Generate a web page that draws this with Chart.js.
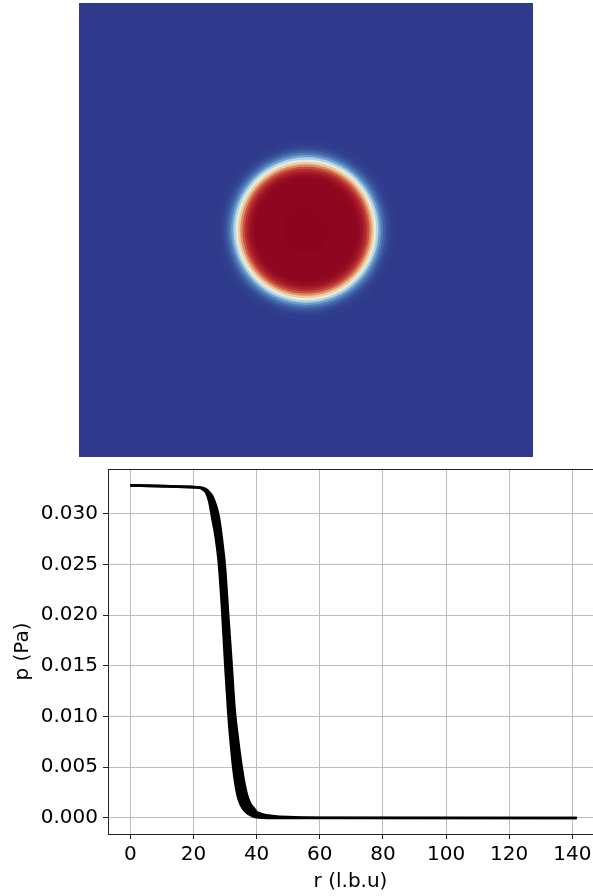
<!DOCTYPE html>
<html>
<head>
<meta charset="utf-8">
<script src="https://cdn.jsdelivr.net/npm/chart.js@4.4.1/dist/chart.umd.min.js"></script>
<style>
  html, body { margin: 0; padding: 0; background: #fff; }
  body { width: 593px; height: 896px; position: relative; overflow: hidden; }
  #fieldWrap { position: absolute; left: 79px; top: 3px; width: 454px; height: 454px; }
  #profileWrap { position: absolute; left: 0; top: 460px; width: 593px; height: 436px; }
</style>
</head>
<body>
<div id="fieldWrap"><canvas id="field"></canvas></div>
<div id="profileWrap"><canvas id="profile"></canvas></div>
<script>
// radial profile p(r): the scatter of all cells shows as a band, kept as upper / lower edge
const rValues = [0, 10, 20, 22, 23, 24, 25, 26, 27, 28, 29, 30, 31, 32, 33, 34, 35, 36, 37, 38, 39, 40, 42, 45, 50, 60, 141.4];
const pUpper  = [0.0328, 0.03272, 0.03262, 0.03258, 0.03254, 0.0324, 0.0321, 0.0317, 0.0309, 0.0297, 0.0275, 0.0246, 0.0200, 0.0155, 0.0108, 0.0080, 0.0056, 0.0036, 0.0022, 0.0014, 0.0010, 0.0006, 0.00035, 0.0002, 0.00008, 0.00002, 0];
const pLower  = [0.0328, 0.03272, 0.03262, 0.03255, 0.0324, 0.0321, 0.0312, 0.0295, 0.0278, 0.0253, 0.0210, 0.0155, 0.0105, 0.0068, 0.0040, 0.0022, 0.0013, 0.0008, 0.0005, 0.0003, 0.00015, 0.00008, 0.00003, 0, 0, 0, 0];

const xTicks = [0, 20, 40, 60, 80, 100, 120, 140];
const yTicks = [0, 0.005, 0.010, 0.015, 0.020, 0.025, 0.030];

// field picture (200 x 200 domain, drop in the middle), rings from outside in
const imageRadius   = [142, 40, 38, 37, 36, 35, 34, 33, 32, 31, 30, 29, 28, 27, 26, 25, 24, 23, 22, 20, 10];
const imagePressure = [0, 0.0001, 0.0003, 0.0007, 0.0013, 0.0024, 0.0040, 0.0065, 0.0105, 0.0150, 0.0198, 0.0240, 0.0272, 0.0292, 0.0305, 0.0315, 0.0321, 0.0324, 0.0326, 0.0326, 0.0327];
const pMax = 0.0328;

const FONT = 'DejaVu Sans';

// diverging map, blue -> pale yellow -> dark red
const cmap = [
  [0.0, [47, 58, 140]],
  [0.1, [69, 112, 175]],
  [0.2, [112, 160, 205]],
  [0.3, [165, 205, 228]],
  [0.4, [215, 232, 238]],
  [0.5, [242, 238, 205]],
  [0.6, [238, 205, 160]],
  [0.7, [228, 160, 115]],
  [0.8, [208, 100, 75]],
  [0.9, [180, 40, 45]],
  [1.0, [139, 4, 30]]
];

function colorFor(t) {
  t = Math.max(0, Math.min(1, t));
  for (let i = 1; i < cmap.length; i++) {
    if (t <= cmap[i][0]) {
      const [t0, c0] = cmap[i - 1];
      const [t1, c1] = cmap[i];
      const f = (t - t0) / (t1 - t0);
      const c = c0.map((v, k) => Math.round(v + (c1[k] - v) * f));
      return `rgb(${c[0]},${c[1]},${c[2]})`;
    }
  }
  return 'rgb(139,4,30)';
}

// --- top: field picture ---
const fieldData = imageRadius.map((r, i) => ({ x: 0, y: 0, r, p: imagePressure[i] }));

new Chart(document.getElementById('field'), {
  type: 'scatter',
  data: {
    datasets: [{
      data: fieldData,
      clip: 0,
      pointRadius: (ctx) => {
        const xs = ctx.chart.scales.x;
        if (!ctx.raw) return 0;
        return Math.abs(xs.getPixelForValue(ctx.raw.r) - xs.getPixelForValue(0));
      },
      pointBackgroundColor: (ctx) => ctx.raw ? colorFor(ctx.raw.p / pMax) : '#000',
      pointBorderWidth: 0,
      pointHoverRadius: 0
    }]
  },
  options: {
    responsive: true,
    maintainAspectRatio: false,
    animation: false,
    events: [],
    layout: { padding: 0 },
    plugins: { legend: { display: false }, tooltip: { enabled: false } },
    scales: {
      x: { type: 'linear', min: -100, max: 100, display: false },
      y: { type: 'linear', min: -100, max: 100, display: false }
    }
  }
});

// --- bottom: p vs r ---
const topSpine = {
  id: 'topSpine',
  afterDraw(chart) {
    const { ctx, chartArea } = chart;
    ctx.save();
    ctx.strokeStyle = '#222';
    ctx.lineWidth = 1;
    ctx.beginPath();
    ctx.moveTo(chartArea.left, chartArea.top + 0.5);
    ctx.lineTo(chartArea.right, chartArea.top + 0.5);
    ctx.stroke();
    ctx.restore();
  }
};

const tickFont = { family: FONT, size: 20 };

function noPad(axis) {
  axis.paddingTop = 0;
  axis.paddingBottom = 0;
  axis.paddingLeft = 0;
  axis.paddingRight = 0;
}

new Chart(document.getElementById('profile'), {
  type: 'line',
  data: {
    datasets: [
      {
        data: rValues.map((r, i) => ({ x: r, y: pUpper[i] })),
        borderColor: '#000',
        borderWidth: 2.6,
        pointRadius: 0,
        cubicInterpolationMode: 'monotone',
        fill: false
      },
      {
        data: rValues.map((r, i) => ({ x: r, y: pLower[i] })),
        borderColor: '#000',
        backgroundColor: '#000',
        borderWidth: 2.6,
        pointRadius: 0,
        cubicInterpolationMode: 'monotone',
        fill: '-1'
      }
    ]
  },
  options: {
    responsive: true,
    maintainAspectRatio: false,
    animation: false,
    events: [],
    layout: { padding: { top: 9, right: 0, left: 0, bottom: 0 } },
    plugins: { legend: { display: false }, tooltip: { enabled: false } },
    scales: {
      x: {
        type: 'linear',
        min: -7.07,
        max: 146.55,
        afterBuildTicks: (axis) => { axis.ticks = xTicks.map(v => ({ value: v })); },
        afterFit: (axis) => { axis.height = 62; noPad(axis); },
        grid: { color: '#bdbdbd', lineWidth: 1, tickColor: '#222', tickLength: 5, tickWidth: 1 },
        border: { color: '#222', width: 1 },
        ticks: { font: tickFont, color: '#000', padding: 3.5, maxRotation: 0, autoSkip: false },
        title: { display: true, text: 'r (l.b.u)', font: tickFont, color: '#000', padding: { top: 0, bottom: 2 } }
      },
      y: {
        type: 'linear',
        min: -0.00158,
        max: 0.03441,
        afterBuildTicks: (axis) => { axis.ticks = yTicks.map(v => ({ value: v })); },
        afterFit: (axis) => { axis.width = 108; noPad(axis); },
        grid: { color: '#bdbdbd', lineWidth: 1, tickColor: '#222', tickLength: 5, tickWidth: 1 },
        border: { color: '#222', width: 1 },
        ticks: { font: tickFont, color: '#000', padding: 5, autoSkip: false, callback: (v) => Number(v).toFixed(3) },
        title: { display: true, text: 'p (Pa)', font: tickFont, color: '#000', padding: { top: 11, bottom: 0 } }
      }
    }
  },
  plugins: [topSpine]
});
</script>
</body>
</html>
